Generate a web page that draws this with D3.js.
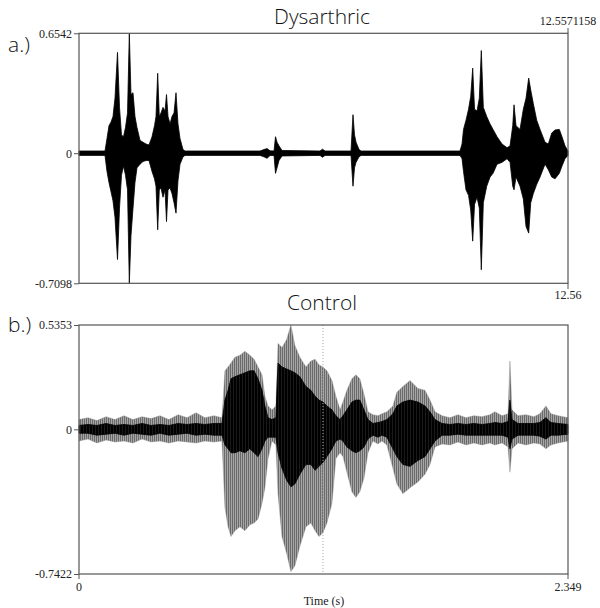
<!DOCTYPE html>
<html>
<head>
<meta charset="utf-8">
<script src="https://cdn.jsdelivr.net/npm/d3@7"></script>
<style>
  html, body { margin: 0; padding: 0; background: #fff; }
  svg { display: block; }
  .ttl { font-family: "Open Sans", "Noto Sans", sans-serif; font-weight: 300; fill: #111; }
  .tk text { font-family: "Liberation Serif", "Times New Roman", serif; font-size: 12px; fill: #222; }
</style>
</head>
<body>
<script>
// ---------- Panel a: Dysarthric (envelope) ----------
const dysDuration = 12.5571158;
const dysYTicks = [-0.7098, 0, 0.6542];
const dysYLabels = ["-0.7098", "0", "0.6542"];
const dysTime = [0,0.668,0.719,0.770,0.822,0.873,0.924,0.989,1.040,1.091,1.143,1.194,1.246,1.292,1.335,1.387,1.438,1.489,1.567,1.644,1.721,1.798,1.875,1.939,1.977,2.021,2.062,2.106,2.157,2.209,2.247,2.286,2.337,2.388,2.440,2.491,2.542,2.594,2.671,2.722,
  4.648,4.751,4.828,4.905,5.008,5.046,5.085,5.136,5.213,6.189,6.253,6.317,6.985,7.036,7.075,7.114,7.191,7.242,
  9.784,9.836,9.874,9.938,10.003,10.059,10.110,10.157,10.221,10.280,10.331,10.383,10.470,10.555,10.632,10.735,10.863,10.992,11.069,11.138,11.171,11.222,11.325,11.410,11.479,11.548,11.600,11.667,11.754,11.839,11.967,12.052,12.139,12.224,12.334,12.403,12.480,12.557];
const dysMax = [0.012,0.012,0.08,0.15,0.17,0.2,0.3,0.55,0.25,0.1,0.09,0.14,0.22,0.654,0.32,0.33,0.2,0.14,0.07,0.06,0.05,0.045,0.09,0.15,0.2,0.436,0.2,0.22,0.25,0.23,0.32,0.2,0.16,0.2,0.22,0.33,0.16,0.08,0.02,0.012,
  0.012,0.02,0.025,0.013,0.012,0.09,0.06,0.04,0.015,0.012,0.022,0.012,0.012,0.21,0.1,0.06,0.02,0.012,
  0.012,0.05,0.13,0.18,0.24,0.31,0.464,0.24,0.23,0.3,0.56,0.25,0.2,0.16,0.13,0.09,0.05,0.03,0.04,0.15,0.264,0.15,0.13,0.24,0.3,0.41,0.345,0.27,0.18,0.13,0.06,0.05,0.11,0.127,0.13,0.09,0.04,0.012];
const dysMin = [-0.012,-0.012,-0.1,-0.16,-0.21,-0.26,-0.35,-0.58,-0.3,-0.12,-0.07,-0.12,-0.2,-0.709,-0.45,-0.3,-0.16,-0.08,-0.06,-0.045,-0.04,-0.04,-0.1,-0.14,-0.18,-0.418,-0.2,-0.19,-0.24,-0.2,-0.373,-0.2,-0.19,-0.22,-0.27,-0.327,-0.15,-0.06,-0.02,-0.012,
  -0.012,-0.02,-0.028,-0.013,-0.012,-0.11,-0.08,-0.04,-0.015,-0.012,-0.022,-0.012,-0.012,-0.18,-0.08,-0.05,-0.02,-0.012,
  -0.012,-0.03,-0.1,-0.2,-0.23,-0.31,-0.48,-0.28,-0.24,-0.3,-0.636,-0.27,-0.18,-0.13,-0.11,-0.06,-0.05,-0.03,-0.05,-0.18,-0.2,-0.13,-0.18,-0.25,-0.4,-0.436,-0.27,-0.22,-0.17,-0.13,-0.06,-0.09,-0.13,-0.14,-0.11,-0.07,-0.03,-0.012];

// ---------- Panel b: Control (outer envelope + dark core) ----------
const ctlDuration = 2.349;
const ctlYTicks = [-0.7422, 0, 0.5353];
const ctlYLabels = ["-0.7422", "0", "0.5353"];
const ctlXLabels = ["0", "2.349"];
const ctlCursor = 1.172;
const ctlTime = [0,0.043,0.086,0.130,0.173,0.216,0.259,0.303,0.346,0.389,0.432,0.476,0.519,0.562,0.605,0.648,0.687,0.701,0.716,0.730,0.749,0.773,0.797,0.821,0.841,0.860,0.879,0.893,0.908,0.927,0.946,0.956,0.975,0.997,1.018,1.037,1.061,1.090,1.114,1.134,1.153,1.172,1.191,1.215,1.234,1.254,1.268,1.287,1.311,1.330,1.349,1.369,1.388,1.412,1.436,1.455,1.479,1.508,1.527,1.556,1.590,1.628,1.662,1.686,1.710,1.744,1.782,1.820,1.859,1.897,1.936,1.974,1.998,2.032,2.061,2.070,2.080,2.109,2.147,2.185,2.214,2.243,2.267,2.301,2.349];
const ctlMax = [0.05,0.06,0.045,0.065,0.05,0.07,0.05,0.065,0.055,0.07,0.05,0.075,0.06,0.085,0.06,0.07,0.06,0.3,0.32,0.34,0.37,0.38,0.4,0.38,0.36,0.32,0.28,0.17,0.12,0.1,0.12,0.44,0.42,0.46,0.535,0.43,0.37,0.32,0.35,0.36,0.33,0.32,0.3,0.25,0.17,0.1,0.14,0.2,0.26,0.28,0.26,0.18,0.09,0.075,0.07,0.08,0.09,0.12,0.19,0.22,0.25,0.21,0.2,0.15,0.09,0.07,0.06,0.075,0.06,0.07,0.065,0.075,0.09,0.07,0.08,0.35,0.1,0.07,0.075,0.065,0.08,0.12,0.08,0.07,0.06];
const ctlMin = [-0.06,-0.05,-0.07,-0.055,-0.065,-0.06,-0.07,-0.05,-0.065,-0.06,-0.07,-0.06,-0.065,-0.07,-0.06,-0.065,-0.06,-0.4,-0.5,-0.55,-0.52,-0.5,-0.52,-0.49,-0.48,-0.46,-0.38,-0.3,-0.15,-0.06,-0.08,-0.33,-0.55,-0.635,-0.73,-0.7,-0.6,-0.5,-0.48,-0.52,-0.55,-0.53,-0.48,-0.38,-0.15,-0.12,-0.14,-0.22,-0.32,-0.35,-0.32,-0.25,-0.12,-0.06,-0.075,-0.06,-0.08,-0.2,-0.28,-0.33,-0.3,-0.27,-0.23,-0.18,-0.09,-0.075,-0.08,-0.065,-0.08,-0.07,-0.08,-0.07,-0.08,-0.07,-0.09,-0.22,-0.1,-0.07,-0.08,-0.07,-0.075,-0.1,-0.08,-0.07,-0.06];
const ctlCoreMax = [0.02,0.025,0.02,0.03,0.02,0.025,0.02,0.03,0.02,0.025,0.02,0.03,0.025,0.03,0.025,0.03,0.03,0.15,0.2,0.26,0.27,0.28,0.29,0.3,0.3,0.26,0.2,0.12,0.06,0.05,0.06,0.34,0.32,0.31,0.3,0.29,0.27,0.22,0.2,0.17,0.15,0.14,0.12,0.1,0.07,0.05,0.07,0.1,0.14,0.15,0.15,0.1,0.05,0.03,0.035,0.04,0.05,0.08,0.12,0.14,0.15,0.14,0.12,0.09,0.05,0.03,0.025,0.03,0.025,0.03,0.025,0.03,0.035,0.03,0.04,0.15,0.05,0.03,0.03,0.03,0.035,0.06,0.035,0.03,0.025];
const ctlCoreMin = [-0.02,-0.02,-0.03,-0.025,-0.02,-0.03,-0.02,-0.025,-0.03,-0.02,-0.03,-0.025,-0.02,-0.03,-0.025,-0.03,-0.03,-0.08,-0.1,-0.12,-0.12,-0.11,-0.12,-0.1,-0.12,-0.14,-0.1,-0.06,-0.04,-0.04,-0.04,-0.12,-0.2,-0.26,-0.295,-0.28,-0.23,-0.18,-0.18,-0.21,-0.19,-0.17,-0.14,-0.1,-0.06,-0.05,-0.06,-0.09,-0.11,-0.12,-0.11,-0.09,-0.05,-0.03,-0.04,-0.03,-0.04,-0.1,-0.14,-0.18,-0.19,-0.16,-0.14,-0.1,-0.06,-0.03,-0.03,-0.025,-0.03,-0.03,-0.03,-0.03,-0.03,-0.03,-0.04,-0.1,-0.05,-0.03,-0.03,-0.03,-0.035,-0.05,-0.03,-0.03,-0.025];

// ---------- drawing ----------
const W = 600, H = 608;
const svg = d3.select("body").append("svg").attr("width", W).attr("height", H);
const L = 79, R = 568;
const frameColor = "#555";

// vertical-stripe textures imitating the dense sample lines
const defs = svg.append("defs");
const pGray = defs.append("pattern").attr("id", "grayLines").attr("patternUnits", "userSpaceOnUse")
  .attr("width", 2).attr("height", 8);
pGray.append("rect").attr("width", 2).attr("height", 8).attr("fill", "#a6a6a6");
pGray.append("rect").attr("width", 1).attr("height", 8).attr("fill", "#6a6a6a");
const pDark = defs.append("pattern").attr("id", "darkLines").attr("patternUnits", "userSpaceOnUse")
  .attr("width", 3).attr("height", 8);
pDark.append("rect").attr("width", 3).attr("height", 8).attr("fill", "#1a1a1a");
pDark.append("rect").attr("width", 2).attr("height", 8).attr("fill", "#000");

function panel(cfg) {
  const x = d3.scaleLinear().domain([0, cfg.duration]).range([L, R]);
  const y = d3.scaleLinear().domain([cfg.yTicks[0], cfg.yTicks[2]]).range([cfg.bottom, cfg.top]);
  const g = svg.append("g");

  cfg.layers.forEach(layer => {
    const data = cfg.time.map((t, i) => ({ t, hi: layer.hi[i], lo: layer.lo[i] }));
    const area = d3.area().x(d => x(d.t)).y0(d => y(d.lo)).y1(d => y(d.hi));
    g.append("path").datum(data).attr("d", area)
      .attr("fill", layer.fill).attr("stroke", layer.stroke).attr("stroke-width", layer.sw)
      .attr("stroke-linejoin", "miter");
  });

  if (cfg.cursor !== undefined) {
    g.append("line").attr("x1", x(cfg.cursor)).attr("x2", x(cfg.cursor))
      .attr("y1", cfg.top).attr("y2", cfg.bottom)
      .attr("stroke", "#aaa").attr("stroke-width", 1).attr("stroke-dasharray", "1,2");
  }

  g.append("rect").attr("x", L).attr("y", cfg.top).attr("width", R - L).attr("height", cfg.bottom - cfg.top)
    .attr("fill", "none").attr("stroke", frameColor).attr("stroke-width", 1.2);

  const ax = d3.axisLeft(y).tickValues(cfg.yTicks).tickFormat((d, i) => cfg.yLabels[i]).tickSize(5).tickPadding(2);
  const axg = g.append("g").attr("class", "tk").attr("transform", `translate(${L},0)`).call(ax);
  axg.select(".domain").remove();
  axg.selectAll("line").attr("stroke", frameColor);

  svg.append("text").attr("class", "ttl").attr("x", 322).attr("y", cfg.titleY)
    .attr("text-anchor", "middle").attr("font-size", 21).text(cfg.title);
  svg.append("text").attr("class", "ttl").attr("x", 8).attr("y", cfg.letterY)
    .attr("font-size", 21).attr("font-weight", 400).text(cfg.letter);
  return { x, y, g };
}

const pa = panel({
  duration: dysDuration, top: 33.3, bottom: 283.3, yTicks: dysYTicks, yLabels: dysYLabels,
  time: dysTime, layers: [{ hi: dysMax, lo: dysMin, fill: "#000", stroke: "#000", sw: 0.8 }],
  title: "Dysarthric", titleY: 24, letter: "a.)", letterY: 52
});
const tka = svg.append("g").attr("class", "tk");
tka.append("line").attr("x1", R).attr("x2", R).attr("y1", 28).attr("y2", 33.3).attr("stroke", frameColor);
tka.append("line").attr("x1", R).attr("x2", R).attr("y1", 283.3).attr("y2", 289).attr("stroke", frameColor);
tka.append("text").attr("x", pa.x(dysDuration)).attr("y", 25).attr("text-anchor", "middle").text(String(dysDuration));
tka.append("text").attr("x", pa.x(dysDuration)).attr("y", 299).attr("text-anchor", "middle").text(dysDuration.toFixed(2));

const pb = panel({
  duration: ctlDuration, top: 325, bottom: 574, yTicks: ctlYTicks, yLabels: ctlYLabels,
  time: ctlTime, cursor: ctlCursor,
  layers: [
    { hi: ctlMax, lo: ctlMin, fill: "url(#grayLines)", stroke: "#888", sw: 0.4 },
    { hi: ctlCoreMax, lo: ctlCoreMin, fill: "url(#darkLines)", stroke: "#000", sw: 0.8 }
  ],
  title: "Control", titleY: 310, letter: "b.)", letterY: 332
});
const tkb = svg.append("g").attr("class", "tk");
[0, ctlDuration].forEach((v, i) => {
  tkb.append("line").attr("x1", pb.x(v)).attr("x2", pb.x(v)).attr("y1", 574).attr("y2", 579).attr("stroke", frameColor);
  tkb.append("text").attr("x", pb.x(v)).attr("y", 591).attr("text-anchor", "middle").text(ctlXLabels[i]);
});
tkb.append("text").attr("x", 324).attr("y", 605).attr("text-anchor", "middle").text("Time (s)");
</script>
</body>
</html>
